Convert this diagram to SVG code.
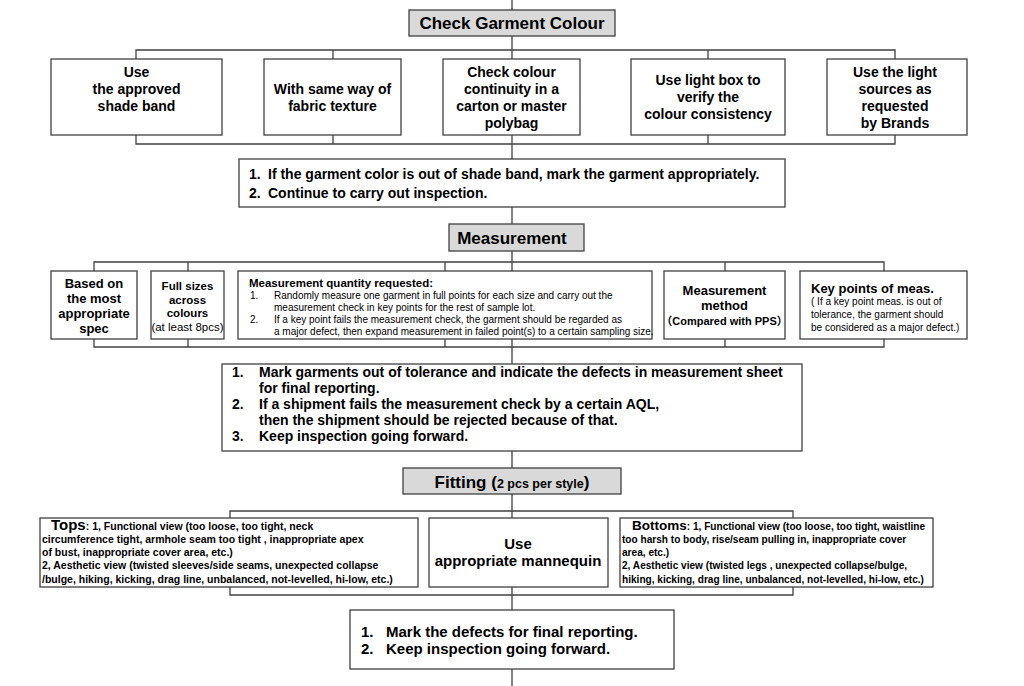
<svg xmlns="http://www.w3.org/2000/svg" width="1024" height="686" viewBox="0 0 1024 686">
<style>
  .ln { stroke:#404040; stroke-width:1.3; fill:none; }
  .bx { fill:#ffffff; stroke:#404040; stroke-width:1.3; }
  .tb { fill:#d9d9d9; stroke:#404040; stroke-width:1.3; }
  text { font-family:"Liberation Sans", Arial, "Noto Sans CJK SC", sans-serif; fill:#000; }
  .b { font-weight:bold; }
  .c { text-anchor:middle; }
  .h { font-size:17px; font-weight:bold; }
  .t14 { font-size:14px; font-weight:bold; }
</style>
<rect width="1024" height="686" fill="#ffffff"/>

<g id="connectors">
  <line class="ln" x1="512" y1="0" x2="512" y2="686"/>
  <!-- colour row -->
  <polyline class="ln" points="136,59 136,50 895,50 895,59"/>
  <line class="ln" x1="333" y1="50" x2="333" y2="59"/>
  <line class="ln" x1="708" y1="50" x2="708" y2="59"/>
  <polyline class="ln" points="136,135 136,144 895,144 895,135"/>
  <line class="ln" x1="333" y1="135" x2="333" y2="144"/>
  <line class="ln" x1="708" y1="135" x2="708" y2="144"/>
  <!-- measurement row -->
  <polyline class="ln" points="94,271 94,262 884,262 884,271"/>
  <line class="ln" x1="188" y1="262" x2="188" y2="271"/>
  <line class="ln" x1="445" y1="262" x2="445" y2="271"/>
  <line class="ln" x1="725" y1="262" x2="725" y2="271"/>
  <polyline class="ln" points="94,339 94,347 884,347 884,339"/>
  <line class="ln" x1="188" y1="339" x2="188" y2="347"/>
  <line class="ln" x1="445" y1="339" x2="445" y2="347"/>
  <line class="ln" x1="725" y1="339" x2="725" y2="347"/>
  <!-- fitting row -->
  <polyline class="ln" points="230,518 230,511 793,511 793,518"/>
  <polyline class="ln" points="230,587 230,595 793,595 793,587"/>
</g>

<g id="check-colour">
  <rect class="tb" x="409" y="10" width="206" height="26"/>
  <text class="h c" x="512" y="29">Check Garment Colour</text>
</g>

<g id="shade-band">
  <rect class="bx" x="51" y="59" width="171" height="76"/>
  <text class="t14 c" x="136.5"><tspan x="136.5" y="76.5">Use</tspan><tspan x="136.5" y="93.5">the approved</tspan><tspan x="136.5" y="110.5">shade band</tspan></text>
</g>
<g id="fabric-texture">
  <rect class="bx" x="264" y="59" width="137" height="76"/>
  <text class="t14 c"><tspan x="332.5" y="93.5">With same way of</tspan><tspan x="332.5" y="110.5">fabric texture</tspan></text>
</g>
<g id="colour-continuity">
  <rect class="bx" x="443" y="59" width="137" height="76"/>
  <text class="t14 c"><tspan x="511.5" y="76.5">Check colour</tspan><tspan x="511.5" y="93.5">continuity in a</tspan><tspan x="511.5" y="110.5">carton or master</tspan><tspan x="511.5" y="127.5">polybag</tspan></text>
</g>
<g id="light-box">
  <rect class="bx" x="631" y="59" width="154" height="76"/>
  <text class="t14 c"><tspan x="708" y="85">Use light box to</tspan><tspan x="708" y="102">verify the</tspan><tspan x="708" y="119">colour consistency</tspan></text>
</g>
<g id="light-sources">
  <rect class="bx" x="827" y="59" width="140" height="76"/>
  <text class="t14 c"><tspan x="895" y="76.5">Use the light</tspan><tspan x="895" y="93.5">sources as</tspan><tspan x="895" y="110.5">requested</tspan><tspan x="895" y="127.5">by Brands</tspan></text>
</g>

<g id="colour-action">
  <rect class="bx" x="239" y="159" width="546" height="48"/>
  <text class="t14"><tspan x="249" y="179">1.</tspan><tspan x="268" y="179">If the garment color is out of shade band, mark the garment appropriately.</tspan></text>
  <text class="t14"><tspan x="249" y="198">2.</tspan><tspan x="268" y="198">Continue to carry out inspection.</tspan></text>
</g>

<g id="measurement">
  <rect class="tb" x="449" y="224" width="135" height="27"/>
  <text class="h c" x="512" y="244">Measurement</text>
</g>

<g id="spec">
  <rect class="bx" x="51" y="271" width="86" height="68"/>
  <text class="b c" font-size="13"><tspan x="94" y="288">Based on</tspan><tspan x="94" y="303">the most</tspan><tspan x="94" y="318">appropriate</tspan><tspan x="94" y="333">spec</tspan></text>
</g>
<g id="full-sizes">
  <rect class="bx" x="151" y="271" width="73" height="68"/>
  <text class="b c" font-size="11.5"><tspan x="187.5" y="290">Full sizes</tspan><tspan x="187.5" y="303.5">across</tspan><tspan x="187.5" y="317">colours</tspan></text>
  <text class="c" font-size="11.5" x="187.5" y="330.5">(at least 8pcs)</text>
</g>
<g id="quantity">
  <rect class="bx" x="238" y="271" width="414" height="68"/>
  <text class="b" font-size="11.5" x="249" y="287">Measurement quantity requested:</text>
  <text font-size="10"><tspan x="250" y="299">1.</tspan><tspan x="274" y="299">Randomly measure one garment in full points for each size and carry out the</tspan><tspan x="274" y="311">measurement check in key points for the rest of sample lot.</tspan><tspan x="250" y="323">2.</tspan><tspan x="274" y="323">If a key point fails the measurement check, the garment should be regarded as</tspan><tspan x="274" y="335">a major defect, then expand measurement in failed point(s) to a certain sampling size.</tspan></text>
</g>
<g id="method">
  <rect class="bx" x="664" y="271" width="121" height="68"/>
  <text class="b c" font-size="13"><tspan x="724.5" y="295">Measurement</tspan><tspan x="724.5" y="310">method</tspan></text>
  <text class="b c" font-size="11" x="724.5" y="325">（Compared with PPS）</text>
</g>
<g id="key-points">
  <rect class="bx" x="800" y="271" width="167" height="68"/>
  <text class="b" font-size="13" x="811" y="293">Key points of meas.</text>
  <text font-size="10"><tspan x="811" y="305">( If a key point meas. is out of</tspan><tspan x="811" y="318">tolerance, the garment should</tspan><tspan x="811" y="331">be considered as a major defect.)</tspan></text>
</g>

<g id="measurement-action">
  <rect class="bx" x="222" y="364" width="580" height="87"/>
  <text class="t14"><tspan x="232" y="377">1.</tspan><tspan x="259" y="377">Mark garments out of tolerance and indicate the defects in measurement sheet</tspan><tspan x="259" y="393">for final reporting.</tspan><tspan x="232" y="409">2.</tspan><tspan x="259" y="409">If a shipment fails the measurement check by a certain AQL,</tspan><tspan x="259" y="425">then the shipment should be rejected because of that.</tspan><tspan x="232" y="441">3.</tspan><tspan x="259" y="441">Keep inspection going forward.</tspan></text>
</g>

<g id="fitting">
  <rect class="tb" x="403" y="468" width="218" height="26"/>
  <text class="b c" x="512" y="488"><tspan font-size="17">Fitting (</tspan><tspan font-size="12.5">2 pcs per style</tspan><tspan font-size="17">)</tspan></text>
</g>

<g id="tops">
  <rect class="bx" x="40" y="518" width="378" height="69"/>
  <text class="b" x="51" y="530"><tspan font-size="15">Tops</tspan><tspan font-size="10.5">:  1, Functional view (too loose, too tight, neck</tspan></text>
  <text class="b" font-size="10.5"><tspan x="42" y="543">circumference tight, armhole seam too tight , inappropriate apex</tspan><tspan x="42" y="556">of bust, inappropriate cover area, etc.)</tspan><tspan x="42" y="569">2, Aesthetic view (twisted sleeves/side seams, unexpected collapse</tspan><tspan x="42" y="583">/bulge, hiking, kicking, drag line, unbalanced, not-levelled, hi-low, etc.)</tspan></text>
</g>
<g id="mannequin">
  <rect class="bx" x="429" y="518" width="179" height="69"/>
  <text class="b c" font-size="15"><tspan x="518" y="549">Use</tspan><tspan x="518" y="566">appropriate mannequin</tspan></text>
</g>
<g id="bottoms">
  <rect class="bx" x="620" y="518" width="313" height="69"/>
  <text class="b" x="632" y="530"><tspan font-size="13.5">Bottoms</tspan><tspan font-size="10.1">: 1, Functional view (too loose, too tight, waistline</tspan></text>
  <text class="b" font-size="10.1"><tspan x="622" y="543">too harsh to body, rise/seam pulling in, inappropriate cover</tspan><tspan x="622" y="556">area, etc.)</tspan><tspan x="622" y="569">2, Aesthetic view (twisted legs , unexpected collapse/bulge,</tspan><tspan x="622" y="583">hiking, kicking, drag line, unbalanced, not-levelled, hi-low, etc.)</tspan></text>
</g>

<g id="fitting-action">
  <rect class="bx" x="350" y="610" width="324" height="59"/>
  <text class="b" font-size="15"><tspan x="361" y="637">1.</tspan><tspan x="386" y="637">Mark the defects for final reporting.</tspan><tspan x="361" y="654">2.</tspan><tspan x="386" y="654">Keep inspection going forward.</tspan></text>
</g>
</svg>
